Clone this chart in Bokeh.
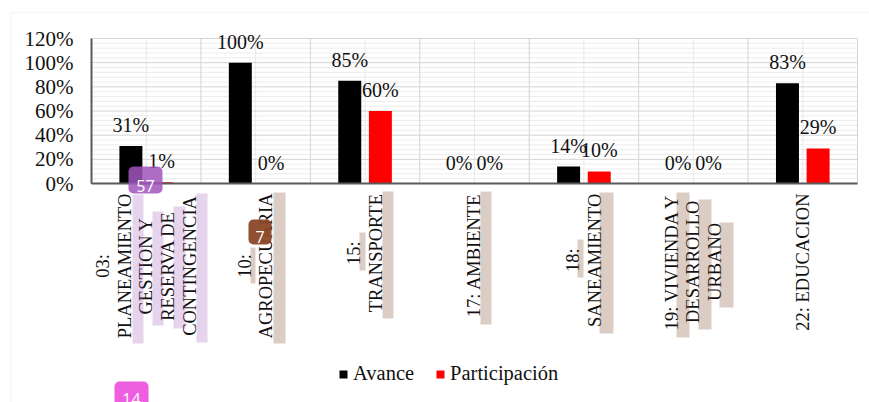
import math

from bokeh.plotting import figure
from bokeh.models import (ColumnDataSource, Range1d, FixedTicker, LabelSet, Label,
                          BoxAnnotation, Legend, LegendItem, PrintfTickFormatter)
from bokeh.embed import file_html
from bokeh.resources import INLINE

# ---- data -------------------------------------------------------------
categories = [
    "03:\nPLANEAMIENTO\nGESTION Y\nRESERVA DE\nCONTINGENCIA",
    "10:\nAGROPECUARIA",
    "15:\nTRANSPORTE",
    "17: AMBIENTE",
    "18:\nSANEAMIENTO",
    "19: VIVIENDA Y\nDESARROLLO\nURBANO",
    "22: EDUCACION",
]
avance = [31, 100, 85, 0, 14, 0, 83]
participacion = [1, 0, 60, 0, 10, 0, 29]
series_names = ["Avance", "Participación"]
y_ticks = [0, 20, 40, 60, 80, 100, 120]

# ---- layout / style ---------------------------------------------------
W, H = 869, 402
PLOT_L, PLOT_R, PLOT_T, PLOT_B = 91, 857, 38, 183   # chart box in page pixels
Y_MAX = 120
n = len(categories)
PX_X = (PLOT_R - PLOT_L) / n        # pixels per category
PX_Y = (PLOT_B - PLOT_T) / Y_MAX    # pixels per percent

SERIF = "Liberation Serif"
INK = "#111111"
BAR_W = 0.21
DODGE = 0.14
CAT_FONT = 18.5
LINE_STEP = 21.7

# Times-style advance widths (em) used to centre the wrapped, rotated labels
TIMES_W = {'A': .722, 'B': .667, 'C': .667, 'D': .722, 'E': .611, 'F': .556, 'G': .722,
           'H': .722, 'I': .333, 'J': .389, 'K': .722, 'L': .611, 'M': .889, 'N': .722,
           'O': .722, 'P': .556, 'Q': .722, 'R': .667, 'S': .556, 'T': .611, 'U': .722,
           'V': .722, 'W': .944, 'X': .722, 'Y': .722, 'Z': .611, ' ': .25, ':': .278}


def text_len(s, size):
    return sum(TIMES_W.get(c, .5) for c in s) * size


centers = [i + 0.5 for i in range(n)]

# the frame spans the whole page; the ranges are padded so that the chart box
# (0..n categories, 0..120 %) lands where it belongs and outer texts are not clipped
p = figure(width=W, height=H,
           x_range=Range1d(-PLOT_L / PX_X, n + (W - PLOT_R) / PX_X),
           y_range=Range1d(-(H - PLOT_B) / PX_Y, Y_MAX + PLOT_T / PX_Y),
           output_backend="svg", toolbar_location=None,
           min_border=0, min_border_left=0, min_border_right=0,
           min_border_top=0, min_border_bottom=0)
p.background_fill_color = "white"
p.border_fill_color = "white"
p.outline_line_color = None
p.xgrid.visible = False
p.ygrid.visible = False

# gridlines of the chart box: 4 % minors, 20 % majors, category centres/edges
minor_y = [v for v in range(0, Y_MAX + 1, 4) if v % 20]
p.segment(x0=0, x1=n, y0=minor_y, y1=minor_y, line_color="#ececec", line_width=1)
p.segment(x0=centers, x1=centers, y0=0, y1=Y_MAX, line_color="#e9e9e9", line_width=1)
p.segment(x0=0, x1=n, y0=y_ticks, y1=y_ticks, line_color="#d4d4d4", line_width=1)
edges = list(range(n + 1))
p.segment(x0=edges, x1=edges, y0=0, y1=Y_MAX, line_color="#d4d4d4", line_width=1)

# axes pinned to the chart box
p.yaxis.fixed_location = 0
p.yaxis.bounds = (0, Y_MAX)
p.yaxis.ticker = FixedTicker(ticks=y_ticks)
p.yaxis.formatter = PrintfTickFormatter(format="%d%%")
p.yaxis.major_tick_line_color = None
p.yaxis.minor_tick_line_color = None
p.yaxis.major_label_standoff = 12
p.yaxis.major_label_text_font = SERIF
p.yaxis.major_label_text_font_size = "21px"
p.yaxis.major_label_text_color = INK
p.xaxis.fixed_location = 0
p.xaxis.bounds = (0, n)
p.xaxis.ticker = FixedTicker(ticks=[])
p.xaxis.major_tick_line_color = None
p.xaxis.minor_tick_line_color = None
for ax in (p.xaxis, p.yaxis):
    ax.axis_line_color = "#5a5a5a"
    ax.axis_line_width = 2

# bars
src = ColumnDataSource(dict(
    xa=[c - DODGE for c in centers], xp=[c + DODGE for c in centers],
    avance=avance, part=participacion,
    ta=[f"{v}%" for v in avance], tp=[f"{v}%" for v in participacion],
))
r_av = p.vbar(x="xa", top="avance", width=BAR_W, source=src,
              fill_color="#000000", line_color=None)
r_pa = p.vbar(x="xp", top="part", width=BAR_W, source=src,
              fill_color="#ff0000", line_color=None)

# value labels
for xcol, ycol, tcol in (("xa", "avance", "ta"), ("xp", "part", "tp")):
    p.add_layout(LabelSet(x=xcol, y=ycol, text=tcol, source=src, y_offset=14,
                          text_align="center", text_baseline="alphabetic",
                          text_font=SERIF, text_font_size="20px", text_color=INK))

# wrapped category labels, rotated, lines centred, block hanging under the axis
lab = dict(x=[], xo=[], y=[], text=[])
for c, name in zip(centers, categories):
    lines = name.split("\n")
    longest = max(text_len(s, CAT_FONT) for s in lines)
    mid_page = PLOT_B + 10 + longest / 2
    for k, s in enumerate(lines):
        lab["x"].append(c)
        lab["xo"].append((k - (len(lines) - 1) / 2) * LINE_STEP)
        lab["y"].append(H - mid_page)
        lab["text"].append(s)
p.add_layout(LabelSet(x="x", y="y", x_offset="xo", text="text", y_units="screen",
                      source=ColumnDataSource(lab), angle=math.pi / 2,
                      text_align="center", text_baseline="middle",
                      text_font=SERIF, text_font_size=f"{CAT_FONT}px", text_color=INK))

# legend
legend = Legend(items=[LegendItem(label=series_names[0], renderers=[r_av]),
                       LegendItem(label=series_names[1], renderers=[r_pa])],
                orientation="horizontal", location=(338, H - 385),
                glyph_width=10, glyph_height=10, label_standoff=5, spacing=21,
                padding=0, margin=0, border_line_color=None,
                background_fill_alpha=0, label_text_font=SERIF,
                label_text_font_size="20.5px", label_text_color=INK)
p.add_layout(legend)


# ---- page decorations in page pixels ----------------------------------
def page_box(x0, y0, x1, y1, **kw):
    return BoxAnnotation(left=x0, right=x1, top=H - y0, bottom=H - y1,
                         left_units="screen", right_units="screen",
                         top_units="screen", bottom_units="screen",
                         level="overlay", **kw)


# light page border
p.add_layout(page_box(10, 12, W + 20, H + 20, fill_color=None,
                      line_color="#e4e4e4", line_width=1.5))

hl_purple = [(132, 194, 143, 343), (152, 211, 163, 325),
             (173, 206, 185, 328), (196, 193, 207, 342)]
hl_beige = [(250, 247, 255, 283), (273, 192, 285, 343),
            (359, 232, 365, 270), (382, 191, 393, 318),
            (480, 191, 491, 324),
            (577, 239, 583, 277), (599, 192, 613, 333),
            (676, 192, 689, 337), (698, 199, 711, 329), (719, 222, 733, 307)]
for b in hl_purple:
    p.add_layout(page_box(*b, fill_color="#9b4fb5", fill_alpha=0.25, line_color=None))
for b in hl_beige:
    p.add_layout(page_box(*b, fill_color="#8b5a3c", fill_alpha=0.3, line_color=None))

badges = [("57", (128, 166, 162, 193), "#a055bb", 0.85, (145, 185)),
          ("7", (248, 219, 271, 244), "#8b4726", 0.95, (259.5, 236)),
          ("14", (114, 381, 148, 412), "#ee5ee0", 1.0, (131, 398))]
for txt, box, col, alpha, (tx, ty) in badges:
    p.add_layout(page_box(*box, fill_color=col, fill_alpha=alpha,
                          line_color=None, border_radius=5))
    p.add_layout(Label(x=tx, y=H - ty, x_units="screen", y_units="screen",
                       text=txt, text_align="center", text_baseline="middle",
                       text_color="white", text_font="Open Sans",
                       text_font_size="16px", level="overlay"))

open("out.html", "w").write(file_html(p, INLINE))
